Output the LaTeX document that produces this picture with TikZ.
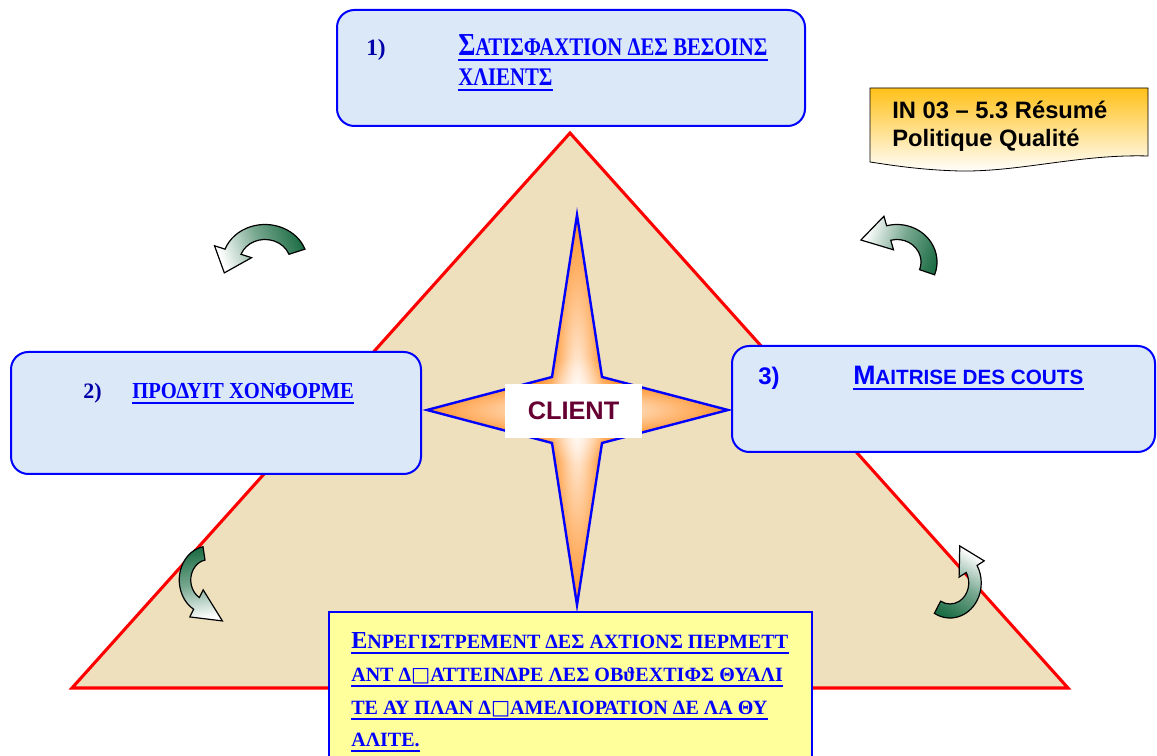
\documentclass[tikz,border=0pt]{standalone}
\usepackage{fontspec}
\setmainfont{Liberation Serif}
\newfontfamily\arialfont{Liberation Sans}
\newfontfamily\grtop[FakeStretch=0.82]{Liberation Serif}
\newfontfamily\grleft[FakeStretch=0.90]{Liberation Serif}
\newfontfamily\grbot[FakeStretch=0.99]{Liberation Serif}
\newfontfamily\boxsym{DejaVu Sans}
\usetikzlibrary{calc,fadings}

\definecolor{sandfill}{RGB}{238,224,188}
\definecolor{panelblue}{RGB}{219,232,247}
\definecolor{noteyellow}{RGB}{255,255,155}
\definecolor{tagorange}{RGB}{255,192,24}
\definecolor{starorange}{RGB}{255,150,50}
\definecolor{clientred}{RGB}{102,0,51}
\definecolor{arrowgreen}{RGB}{30,110,70}
\definecolor{numblue}{RGB}{0,0,170}

\tikzfading[name=starglow, inner color=transparent!0, outer color=transparent!100]

\newcommand{\emptyglyph}{{\boxsym\mdseries □}}

\begin{document}
\begin{tikzpicture}[
  x=0.75pt, y=0.75pt,
  panel/.style   = {draw=blue, line width=1.5pt, rounded corners=13pt, fill=panelblue},
  notebox/.style = {draw=blue, line width=1.3pt, fill=noteyellow},
  grtxt/.style   = {anchor=base west, inner sep=0pt, text=blue},
  numtxt/.style  = {anchor=base west, inner sep=0pt, text=numblue},
  tagtxt/.style  = {anchor=base west, inner sep=0pt, font=\arialfont\bfseries\fontsize{17.8}{17.8}\selectfont},
  underl/.style  = {blue, line width=1.2pt},
  glow/.style    = {white, path fading=starglow},
  ribbon/.style  = {draw=black, line width=0.9pt, top color=arrowgreen,
                    bottom color=white, middle color=arrowgreen!60!white},
]
\useasboundingbox (0,0) rectangle (1157,756);
\clip (0,0) rectangle (1157,756);
\fill[white] (0,0) rectangle (1157,756);

%% ------------------------------------------------------------------ TRIANGLE
\fill[sandfill] (570,623) -- (1068,68) -- (72,68) -- cycle;
\draw[red, line width=2.3pt, line join=miter] (570,623) -- (1068,68) -- (72,68) -- cycle;

%% ------------------------------------------------------------------ PANELS
\draw[panel] (337,746) rectangle (805,630);   % 1)
\draw[panel] (11,404) rectangle (421,282);    % 2)
\draw[panel] (732,410) rectangle (1155,304);  % 3)
\draw[notebox] (329,144) rectangle (812,-10); % bottom note

% document tag, wavy lower edge
\path[draw=black, line width=0.6pt, top color=tagorange, bottom color=white]
  (870,668) -- (1148,668) -- (1148,600)
  .. controls (1080,602) and (1020,584) .. (960,585)
  .. controls (920,586) and (890,591) .. (870,594) -- cycle;

%% ------------------------------------------------------------------ STAR
\begin{scope}
  \clip (577,541) -- (602,379) -- (728,346) -- (602,313) -- (577,151)
    -- (552,313) -- (427,346) -- (552,379) -- cycle;
  \fill[starorange] (420,145) rectangle (735,545);
  \fill[glow] (577,346) ellipse (26 and 190);
  \fill[glow] (577,346) ellipse (150 and 26);
  \fill[glow] (577,346) ellipse (45 and 55);
\end{scope}
\draw[blue, line width=1.8pt, line join=miter]
  (577,541) -- (602,379) -- (728,346) -- (602,313) -- (577,151)
  -- (552,313) -- (427,346) -- (552,379) -- cycle;

\node[fill=white, inner sep=0pt, minimum width=102.75pt, minimum height=40.5pt,
      text=clientred, font=\arialfont\bfseries\fontsize{19}{19}\selectfont]
  (client) at (573.5,345) {CLIENT};

%% ------------------------------------------------------------------ CURVED ARROWS
% centre x / centre y / radius x / radius y / tail angle / head angle / head length / shading angle
\foreach \cx/\cy/\rx/\ry/\startA/\endA/\hlen/\shang in
  {265/494/34/30/20/160/0.75/-70,
   897/494/32/30/-20/105/0.9/-110,
   208/176/23/27/100/240/1.3/10,
   950/173/25/28/240/390/0.95/150}
{
  \begin{scope}[shift={(\cx,\cy)}, xscale=\rx, yscale=\ry]
    \path[ribbon, shading angle=\shang]
      (\startA:1.25) arc[start angle=\startA, end angle=\endA, radius=1.25]
      -- (\endA:1.58) -- ($(\endA:1)+({\endA+90}:\hlen)$) -- (\endA:0.42)
      -- (\endA:0.75) arc[start angle=\endA, end angle=\startA, radius=0.75] -- cycle;
  \end{scope}
}

%% ------------------------------------------------------------------ TEXTS
\node[numtxt, font=\bfseries\fontsize{17.5}{17.5}\selectfont] (num1) at (366,700) {1)};
\node[grtxt, font=\grtop\bfseries\fontsize{19}{19}\selectfont] (besoins) at (458,700)
  {{\fontsize{24}{24}\selectfont Σ}ΑΤΙΣΦΑΧΤΙΟΝ ΔΕΣ ΒΕΣΟΙΝΣ};
\node[grtxt, font=\grtop\bfseries\fontsize{19}{19}\selectfont] (clients) at (458,670)
  {ΧΛΙΕΝΤΣ};

\node[numtxt, font=\bfseries\fontsize{16.5}{16.5}\selectfont] (num2) at (83,357) {2)};
\node[grtxt, font=\grleft\bfseries\fontsize{17.2}{17.2}\selectfont] (produit) at (132,357)
  {ΠΡΟΔΥΙΤ ΧΟΝΦΟΡΜΕ\ };

\node[grtxt, font=\arialfont\bfseries\fontsize{18}{18}\selectfont] (num3) at (758,371) {3)};
\node[grtxt, font=\arialfont\bfseries\fontsize{15.5}{15.5}\selectfont] (couts) at (853,371)
  {{\fontsize{20}{20}\selectfont M}AITRISE DES COUTS};

\node[tagtxt] (tagA) at (892,637) {IN 03 – 5.3 Résumé};
\node[tagtxt] (tagB) at (892,609) {Politique Qualité};

\node[grtxt, font=\grbot\bfseries\fontsize{15.2}{15.2}\selectfont] (noteA) at (351,107)
  {{\fontsize{18.3}{18.3}\selectfont Ε}ΝΡΕΓΙΣΤΡΕΜΕΝΤ ΔΕΣ ΑΧΤΙΟΝΣ ΠΕΡΜΕΤΤ};
\node[grtxt, font=\grbot\bfseries\fontsize{15.2}{15.2}\selectfont] (noteB) at (351,74)
  {ΑΝΤ Δ\emptyglyph ΑΤΤΕΙΝΔΡΕ ΛΕΣ ΟΒϑΕΧΤΙΦΣ ΘΥΑΛΙ};
\node[grtxt, font=\grbot\bfseries\fontsize{15.2}{15.2}\selectfont] (noteC) at (351,41)
  {ΤΕ ΑΥ ΠΛΑΝ Δ\emptyglyph ΑΜΕΛΙΟΡΑΤΙΟΝ ΔΕ ΛΑ ΘΥ};
\node[grtxt, font=\grbot\bfseries\fontsize{15.2}{15.2}\selectfont] (noteD) at (351,9)
  {ΑΛΙΤΕ.};

% underlines of the linked texts
\foreach \t in {besoins,clients,produit,couts,noteA,noteB,noteC,noteD}
  \draw[underl] ([yshift=-3pt]\t.base west) -- ([yshift=-3pt]\t.base east);

\end{tikzpicture}
\end{document}
